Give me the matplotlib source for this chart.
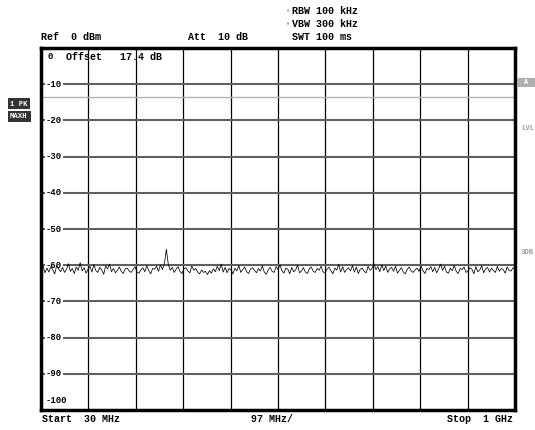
import numpy as np
import matplotlib.pyplot as plt
from matplotlib.patches import Rectangle

W, H = 535, 430

# sweep settings
f_start = 30.0
f_stop = 1000.0
ref_level = 0
grid_levels = [-10, -20, -30, -40, -50, -60, -70, -80, -90]
level_labels = ['-10', '-20', '-30', '-40', '-50', '-60', '-70', '-80', '-90']
display_line = -13.5

# trace (dBm)
level = [
    -61.5, -60.2, -62.1, -60.8, -61.9, -60.4, -61.3, -62.4, -60.1, -61.0,
    -61.8, -60.6, -62.0, -61.2, -59.6, -61.7, -60.9, -62.3, -60.5, -61.4,
    -59.3, -61.6, -60.7, -62.2, -61.1, -60.3, -61.9, -59.8, -61.5, -62.0,
    -60.6, -61.3, -62.5, -60.2, -61.0, -59.7, -61.8, -60.9, -62.1, -61.4,
    -60.5, -61.7, -62.3, -61.0, -60.8, -61.6, -62.0, -61.2, -60.4, -61.9,
    -62.2, -61.3, -60.7, -61.8, -60.1, -61.5, -62.4, -60.9, -61.1, -60.3,
    -61.7, -59.9, -61.2, -59.5, -55.6, -59.8, -61.4, -60.6, -62.0, -61.1,
    -60.4, -61.8, -62.3, -61.0, -60.7, -61.6, -62.1, -60.2, -61.4, -60.9,
    -61.9, -62.4, -61.3, -62.0, -61.7, -62.6, -61.5, -62.2, -61.0, -61.8,
    -60.3, -61.5, -59.7, -61.9, -60.6, -62.1, -60.9, -61.3, -62.4, -60.8,
    -61.6, -60.1, -62.0, -61.2, -60.5, -61.8, -62.3, -61.0, -60.7, -61.4,
    -62.1, -60.9, -61.6, -60.2, -61.9, -62.5, -61.3, -60.6, -61.7, -62.0,
    -60.4, -61.2, -59.9, -61.5, -62.2, -60.8, -61.1, -62.4, -60.6, -61.8,
    -61.3, -60.0, -62.1, -61.6, -60.7, -61.9, -62.3, -61.0, -60.5, -61.7,
    -62.0, -60.9, -61.4, -60.3, -61.8, -62.2, -61.1, -60.6, -61.5, -62.4,
    -60.8, -61.3, -59.8, -61.9, -60.4, -62.0, -61.2, -60.7, -61.6, -60.1,
    -61.9, -60.5, -62.3, -61.1, -60.8, -61.7, -62.1, -60.3, -61.4, -60.9,
    -59.6, -61.2, -60.4, -61.8, -59.9, -61.5, -60.2, -62.0, -61.0, -60.6,
    -61.7, -60.3, -62.2, -61.4, -60.7, -61.9, -62.4, -61.1, -60.5, -61.6,
    -62.0, -61.3, -60.8, -61.7, -60.2, -61.5, -62.3, -60.9, -61.2, -60.4,
    -61.8, -60.6, -62.1, -61.0, -59.7, -61.4, -60.3, -61.9, -62.2, -60.8,
    -61.5, -60.1, -61.7, -62.3, -60.9, -61.2, -60.5, -62.0, -61.6, -60.7,
    -61.1, -62.4, -60.4, -61.8, -61.3, -60.2, -62.1, -61.0, -60.6, -61.9,
    -60.8, -61.5, -62.0, -60.3, -61.7, -60.9, -61.2, -62.2, -60.5, -61.4,
    -61.6, -60.7, -61.0,
]
freq = np.linspace(f_start, f_stop, len(level))

plt.rcParams['font.family'] = 'Liberation Mono'
plt.rcParams['font.weight'] = 'bold'
FS = 7.2


def px(x, y):
    return x / W, 1 - y / H


fig = plt.figure(figsize=(W / 100, H / 100), dpi=100)
ax = fig.add_axes([41 / W, 1 - 410 / H, (515 - 41) / W, (410 - 48) / H])
ax.set_xlim(f_start, f_stop)
ax.set_ylim(-100, ref_level)
ax.set_xticks([])
ax.set_yticks([])
for s in ax.spines.values():
    s.set_linewidth(2.5)
    s.set_color('black')

# grid
step = (f_stop - f_start) / 10
for k in range(1, 10):
    ax.axvline(f_start + k * step, color='black', lw=0.9, zorder=1)
for lv in grid_levels:
    ax.axhline(lv, color='#606060', lw=1.5, zorder=1)
ax.axhline(display_line, color='#b4b4b4', lw=1.0, zorder=1)

# level labels inside the grid
x_lab = f_start + (46 - 41) / 474 * (f_stop - f_start)
for lv, lab in zip(grid_levels, level_labels):
    ax.text(x_lab, lv, lab, fontsize=6.4, va='center', ha='left',
            bbox=dict(facecolor='white', edgecolor='none', pad=0.8), zorder=3)
ax.text(f_start + 14, -2.4, '0', fontsize=6.4, va='center', ha='left', zorder=3)
ax.text(x_lab, -97.3, '-100', fontsize=6.4, va='center', ha='left', zorder=3)
ax.text(f_start + 52, -2.4, 'Offset   17.4 dB', fontsize=FS, va='center', ha='left', zorder=3)

# trace
ax.plot(freq, level, color='black', lw=0.55, zorder=4)

# header
fig.text(*px(41, 37), 'Ref  0 dBm', fontsize=FS, va='center')
fig.text(*px(188, 37), 'Att  10 dB', fontsize=FS, va='center')
fig.text(*px(292, 11), 'RBW 100 kHz', fontsize=FS, va='center')
fig.text(*px(292, 24), 'VBW 300 kHz', fontsize=FS, va='center')
fig.text(*px(292, 37), 'SWT 100 ms', fontsize=FS, va='center')
fig.text(*px(287, 12), '*', fontsize=5, va='center', ha='center', color='#999999')
fig.text(*px(287, 25), '*', fontsize=5, va='center', ha='center', color='#999999')

# footer
fig.text(*px(42, 419), 'Start  30 MHz', fontsize=FS, va='center')
fig.text(*px(251, 419), '97 MHz/', fontsize=FS, va='center', ha='left')
fig.text(*px(513, 419), 'Stop  1 GHz', fontsize=FS, va='center', ha='right')

# side annotations
fig.patches.append(Rectangle(px(8, 109), 22 / W, 11 / H, transform=fig.transFigure,
                             facecolor='#333333', edgecolor='none'))
fig.patches.append(Rectangle(px(8, 122), 23 / W, 11 / H, transform=fig.transFigure,
                             facecolor='#333333', edgecolor='none'))
fig.text(*px(10, 104), '1 PK', fontsize=5.2, va='center', color='white')
fig.text(*px(9.5, 117), 'MAXH', fontsize=5.2, va='center', color='white')
fig.patches.append(Rectangle(px(517, 87), 18 / W, 9 / H, transform=fig.transFigure,
                             facecolor='#b0b0b0', edgecolor='none'))
fig.text(*px(526, 82.5), 'A', fontsize=5, va='center', ha='center', color='white')
fig.text(*px(521, 128), 'LVL', fontsize=5.2, va='center', color='#a0a0a0')
fig.text(*px(521, 253), '3DB', fontsize=5.2, va='center', color='#a0a0a0')

fig.savefig('out.png', dpi=100)
